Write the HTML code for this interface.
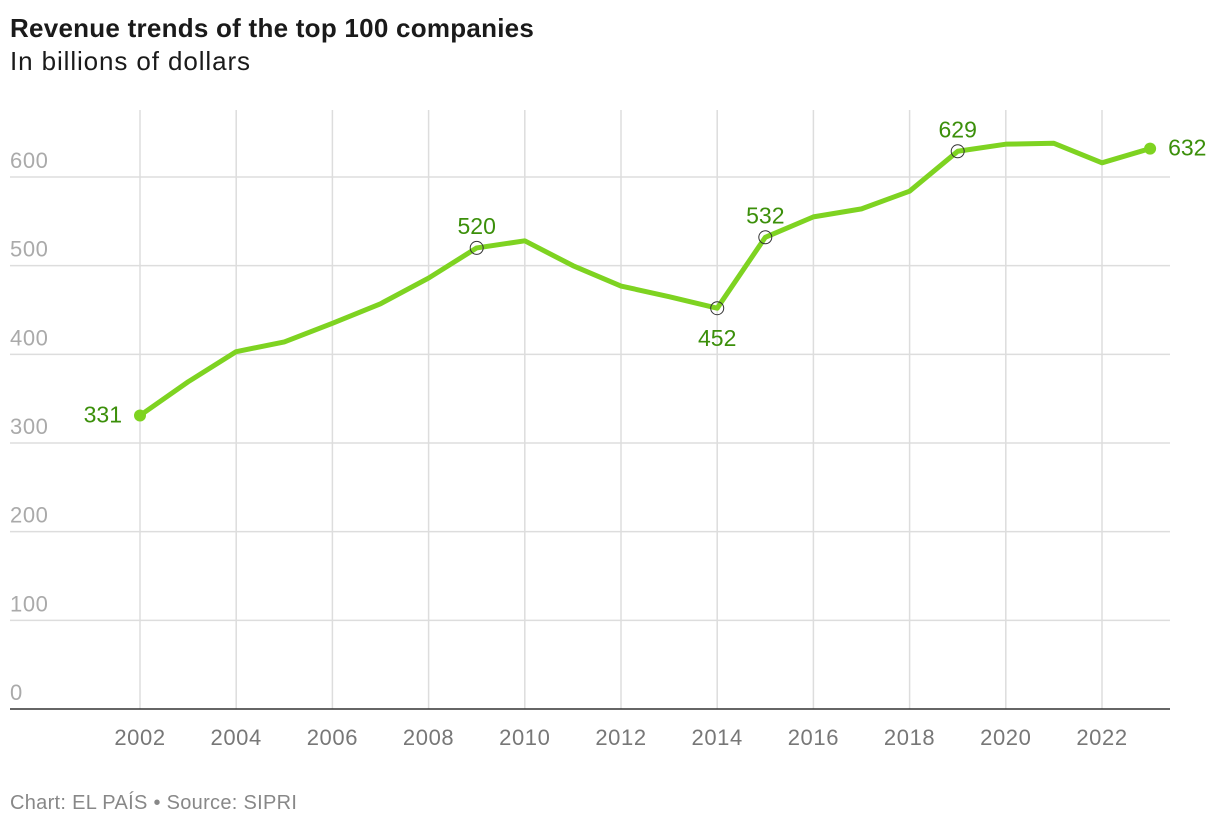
<!DOCTYPE html>
<html><head><meta charset="utf-8">
<style>
body{margin:0;background:#fff;font-family:"Liberation Sans",Arial,sans-serif;}
svg{display:block}
</style></head>
<body>
<svg width="1220" height="826" viewBox="0 0 1220 826">
<text x="10" y="37" font-size="26" font-weight="bold" letter-spacing="0.25" fill="#1a1a1a">Revenue trends of the top 100 companies</text>
<text x="10" y="70" font-size="26" letter-spacing="0.9" fill="#1a1a1a">In billions of dollars</text>
<g id="grid"></g>
<g id="marks"></g>
<text x="10" y="809" font-size="20" letter-spacing="0.3" fill="#888">Chart: EL PAÍS • Source: SIPRI</text>
</svg>
<script>
const years=[2002,2003,2004,2005,2006,2007,2008,2009,2010,2011,2012,2013,2014,2015,2016,2017,2018,2019,2020,2021,2022,2023];
const revenue=[331,369,403,414,435,457,486,520,528,500,477,465,452,532,555,564,584,629,637,638,616,632];
const yTicks=[0,100,200,300,400,500,600];
const xTicks=[2002,2004,2006,2008,2010,2012,2014,2016,2018,2020,2022];
const labeled=[{year:2002,pos:'left'},{year:2009,pos:'above'},{year:2014,pos:'below'},{year:2015,pos:'above'},{year:2019,pos:'above'},{year:2023,pos:'right'}];
const NS='http://www.w3.org/2000/svg';
const X=y=>140+(y-2002)*48.1;
const Y=v=>709-v*0.8867;
function mk(tag,attrs,parent){const e=document.createElementNS(NS,tag);for(const k in attrs)e.setAttribute(k,attrs[k]);parent.appendChild(e);return e;}
const grid=document.getElementById('grid'),marks=document.getElementById('marks');
yTicks.forEach(t=>{
  if(t>0){const l=mk('line',{x1:10,x2:1170,y1:Y(t),y2:Y(t),stroke:'#ddd','stroke-width':1.5},grid);
  
  }
  const tx=mk('text',{x:10,y:Y(t)-9,'font-size':22,'letter-spacing':0.6,fill:'#aaa'},grid);tx.textContent=t;
  
  
});
xTicks.forEach(t=>{
  const l=mk('line',{x1:X(t),x2:X(t),y1:110,y2:709,stroke:'#ddd','stroke-width':1.5},grid);
  
  
  const tx=mk('text',{x:X(t),y:745,'font-size':22,'letter-spacing':0.6,fill:'#777','text-anchor':'middle'},grid);tx.textContent=t;
  
  
});
const ax=mk('line',{x1:10,x2:1170,y1:709,y2:709,stroke:'#333','stroke-width':1.5},grid);


const pts=years.map((y,i)=>X(y)+','+Y(revenue[i])).join(' ');
const pl=mk('polyline',{points:pts,fill:'none',stroke:'#7ed321','stroke-width':5,'stroke-linejoin':'round','stroke-linecap':'round'},marks);


labeled.forEach(lb=>{
  const i=years.indexOf(lb.year);const cx=X(lb.year),cy=Y(revenue[i]);
  const end=lb.pos==='left'||lb.pos==='right';
  const c=mk('circle',end?{cx,cy,r:6,fill:'#7ed321'}:{cx,cy,r:6.5,fill:'none',stroke:'#333','stroke-width':1},marks);
  
  
  let a={fill:'#3b8f0a','font-size':23};
  if(lb.pos==='left'){a.x=cx-18;a.y=cy+7;a['text-anchor']='end';}
  else if(lb.pos==='right'){a.x=cx+18;a.y=cy+7;}
  else if(lb.pos==='above'){a.x=cx;a.y=cy-14;a['text-anchor']='middle';}
  else {a.x=cx;a.y=cy+38;a['text-anchor']='middle';}
  const t=mk('text',a,marks);t.textContent=revenue[i];
  
  
});
</script>
</body></html>
